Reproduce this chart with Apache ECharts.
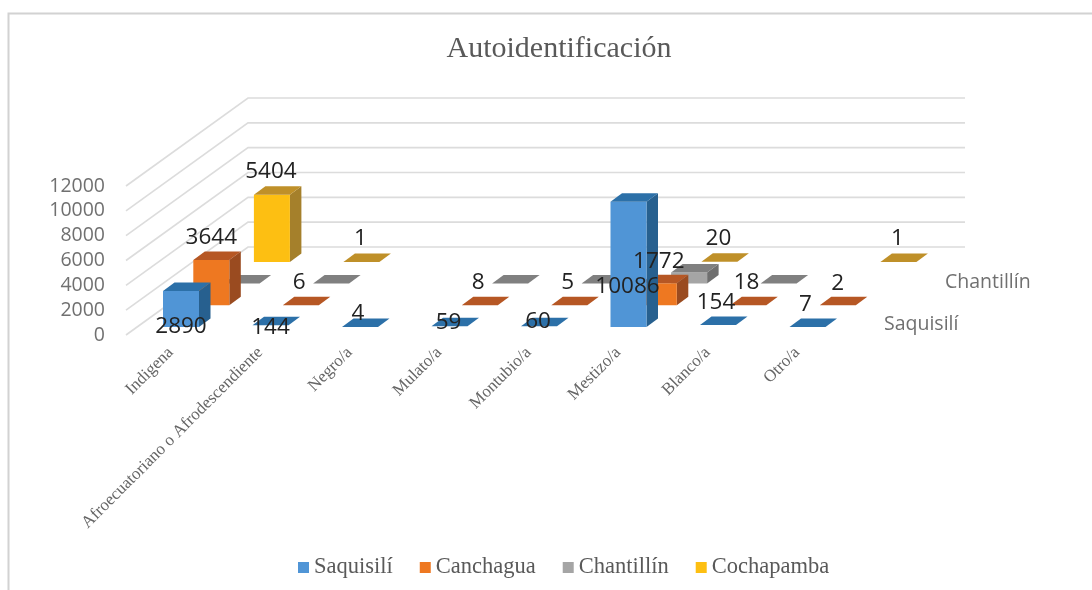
<!DOCTYPE html>
<html>
<head>
<meta charset="utf-8">
<title>Autoidentificación</title>
<script src="https://cdn.jsdelivr.net/npm/echarts@6/dist/echarts.min.js"></script>
<style>
	html, body { margin: 0; padding: 0; background: #fff; }
	#chart { width: 1092px; height: 590px; }
</style>
</head>
<body>
<div id="chart"></div>
<script>
var categories = ['Indigena', 'Afroecuatoriano o Afrodescendiente', 'Negro/a', 'Mulato/a', 'Montubio/a', 'Mestizo/a', 'Blanco/a', 'Otro/a'];
var yTicks = [0, 2000, 4000, 6000, 8000, 10000, 12000];

// null = no mark, 0 = flat mark without label
var saquisili = [2890, 144, 4, 59, 60, 10086, 154, 7];
var canchagua = [3644, 0, null, 0, 0, 1772, 0, 2];
var chantillin = [0, 6, null, 8, 5, 890, 18, null];
var cochapamba = [5404, 1, null, null, null, 20, null, 1];

var seriesNames = ['Saquisilí', 'Canchagua', 'Chantillín', 'Cochapamba'];
var seriesValues = [saquisili, canchagua, chantillin, cochapamba];

// colours per series: front, top, side
var faces = [
	['#5095d6', '#2c70a8', '#27608f'],
	['#ee7821', '#b65724', '#9a4b20'],
	['#a5a5a5', '#808080', '#6f6f6f'],
	['#fdbf12', '#bf9029', '#a5802b']
];

// 3D projection in px
var barW = 36;
var depthX = 11.5;
var depthY = -8.5;
var startX = 10.25;
var startY = -8;
var stepX = 30.3;
var stepY = -21.7;
var wallX = 122;
var wallY = -88;
var wallW = 717;

// label shifts, the picture has them placed by hand
var blueDx = [0, 0, -2, -1, -1, -1, -2, -2];
var blueDy = [35, 2, -13, -4, -5, 85, -22, -22];
var otherDx = [0, 0, -32, -1];
var otherDy = [0, -22, -1, -23];

function rows(values) {
	var out = [];
	values.forEach(function (v, i) {
		if (v !== null) out.push([i, v]);
	});
	return out;
}

function barItem(d) {
	return function (params, api) {
		var i = api.value(0);
		var top = api.coord([i, api.value(1)]);
		var base = api.coord([i, 0]);
		var x = top[0] - barW / 2 + startX + stepX * d;
		var y0 = base[1] + startY + stepY * d;
		var y1 = top[1] + startY + stepY * d;
		var c = faces[d];
		var parts = [];
		// very small values only show the top face
		if (y0 - y1 >= 3) {
			parts.push({ type: 'polygon', shape: { points: [[x + barW, y0], [x + barW + depthX, y0 + depthY], [x + barW + depthX, y1 + depthY], [x + barW, y1]] }, style: { fill: c[2] } });
			parts.push({ type: 'rect', shape: { x: x, y: y1, width: barW, height: y0 - y1 }, style: { fill: c[0] } });
		}
		parts.push({ type: 'polygon', shape: { points: [[x, y1], [x + barW, y1], [x + barW + depthX, y1 + depthY], [x + depthX, y1 + depthY]] }, style: { fill: c[1] } });
		return { type: 'group', children: parts };
	};
}

var labelRows = [];
seriesValues.forEach(function (values, d) {
	values.forEach(function (v, i) {
		// the grey Mestizo bar has no label in the picture
		if (v > 0 && !(d === 2 && i === 5)) labelRows.push([i, v, d]);
	});
});

var series = [];

// walls: front-to-back line and back line for every tick
series.push({
	type: 'custom',
	z: 1,
	silent: true,
	data: yTicks.map(function (t) { return [0, t]; }),
	renderItem: function (params, api) {
		var y = api.coord([0, api.value(1)])[1];
		var x = params.coordSys.x;
		return {
			type: 'polyline',
			shape: { points: [[x, y], [x + wallX, y + wallY], [x + wallX + wallW, y + wallY]] },
			style: { stroke: '#dcdcdc', lineWidth: 1.6, fill: null }
		};
	}
});

seriesValues.forEach(function (values, d) {
	series.push({
		name: seriesNames[d],
		type: 'custom',
		z: 10 - d,
		itemStyle: { color: faces[d][0] },
		data: rows(values),
		renderItem: barItem(d)
	});
});

series.push({
	type: 'custom',
	z: 20,
	silent: true,
	data: labelRows,
	renderItem: function (params, api) {
		var i = api.value(0);
		var v = api.value(1);
		var d = api.value(2);
		var p = api.coord([i, v]);
		var dx = d === 0 ? blueDx[i] : otherDx[d];
		var dy = d === 0 ? blueDy[i] : otherDy[d];
		return {
			type: 'text',
			x: p[0] + startX + stepX * d + dx,
			y: p[1] + startY + stepY * d + dy,
			style: {
				text: String(v),
				fill: '#222',
				font: '22.5px "Open Sans"',
				align: 'center',
				verticalAlign: 'middle'
			}
		};
	}
});

var chart = echarts.init(document.getElementById('chart'));
chart.setOption({
	animation: false,
	backgroundColor: '#fff',
	title: {
		text: 'Autoidentificación',
		left: 554,
		top: 29,
		textAlign: 'center',
		textStyle: { fontFamily: 'Liberation Serif', fontWeight: 'normal', fontSize: 30, color: '#595959' }
	},
	legend: {
		data: seriesNames,
		left: 293,
		top: 551,
		icon: 'rect',
		itemWidth: 11,
		itemHeight: 11,
		itemGap: 27,
		textStyle: { fontFamily: 'Liberation Serif', fontSize: 22.5, color: '#595959' }
	},
	grid: { left: 126, top: 186, width: 716, height: 149 },
	xAxis: {
		type: 'category',
		data: categories,
		axisLine: { show: false },
		axisTick: { show: false },
		axisLabel: {
			rotate: 45,
			interval: 0,
			margin: 15,
			fontFamily: 'Liberation Serif',
			fontSize: 17,
			color: '#666'
		}
	},
	yAxis: {
		type: 'value',
		min: 0,
		max: 12000,
		interval: 2000,
		splitLine: { show: false },
		axisLine: { show: false },
		axisTick: { show: false },
		axisLabel: {
			margin: 21,
			padding: [4, 0, 0, 0],
			fontFamily: 'Open Sans',
			fontSize: 19.5,
			color: '#707070',
			formatter: function (v) { return String(v); }
		}
	},
	graphic: [
		{ type: 'polyline', silent: true, shape: { points: [[8.5, 590], [8.5, 13.5], [1092, 13.5]] }, style: { stroke: '#d2d2d2', lineWidth: 2, fill: null } },
		{ type: 'text', silent: true, x: 945, y: 272, style: { text: 'Chantillín', font: '19.5px "Open Sans"', fill: '#707070' } },
		{ type: 'text', silent: true, x: 884, y: 314, style: { text: 'Saquisilí', font: '19.5px "Open Sans"', fill: '#707070' } }
	],
	series: series
});
window.addEventListener('resize', function () { chart.resize(); });
</script>
</body>
</html>
